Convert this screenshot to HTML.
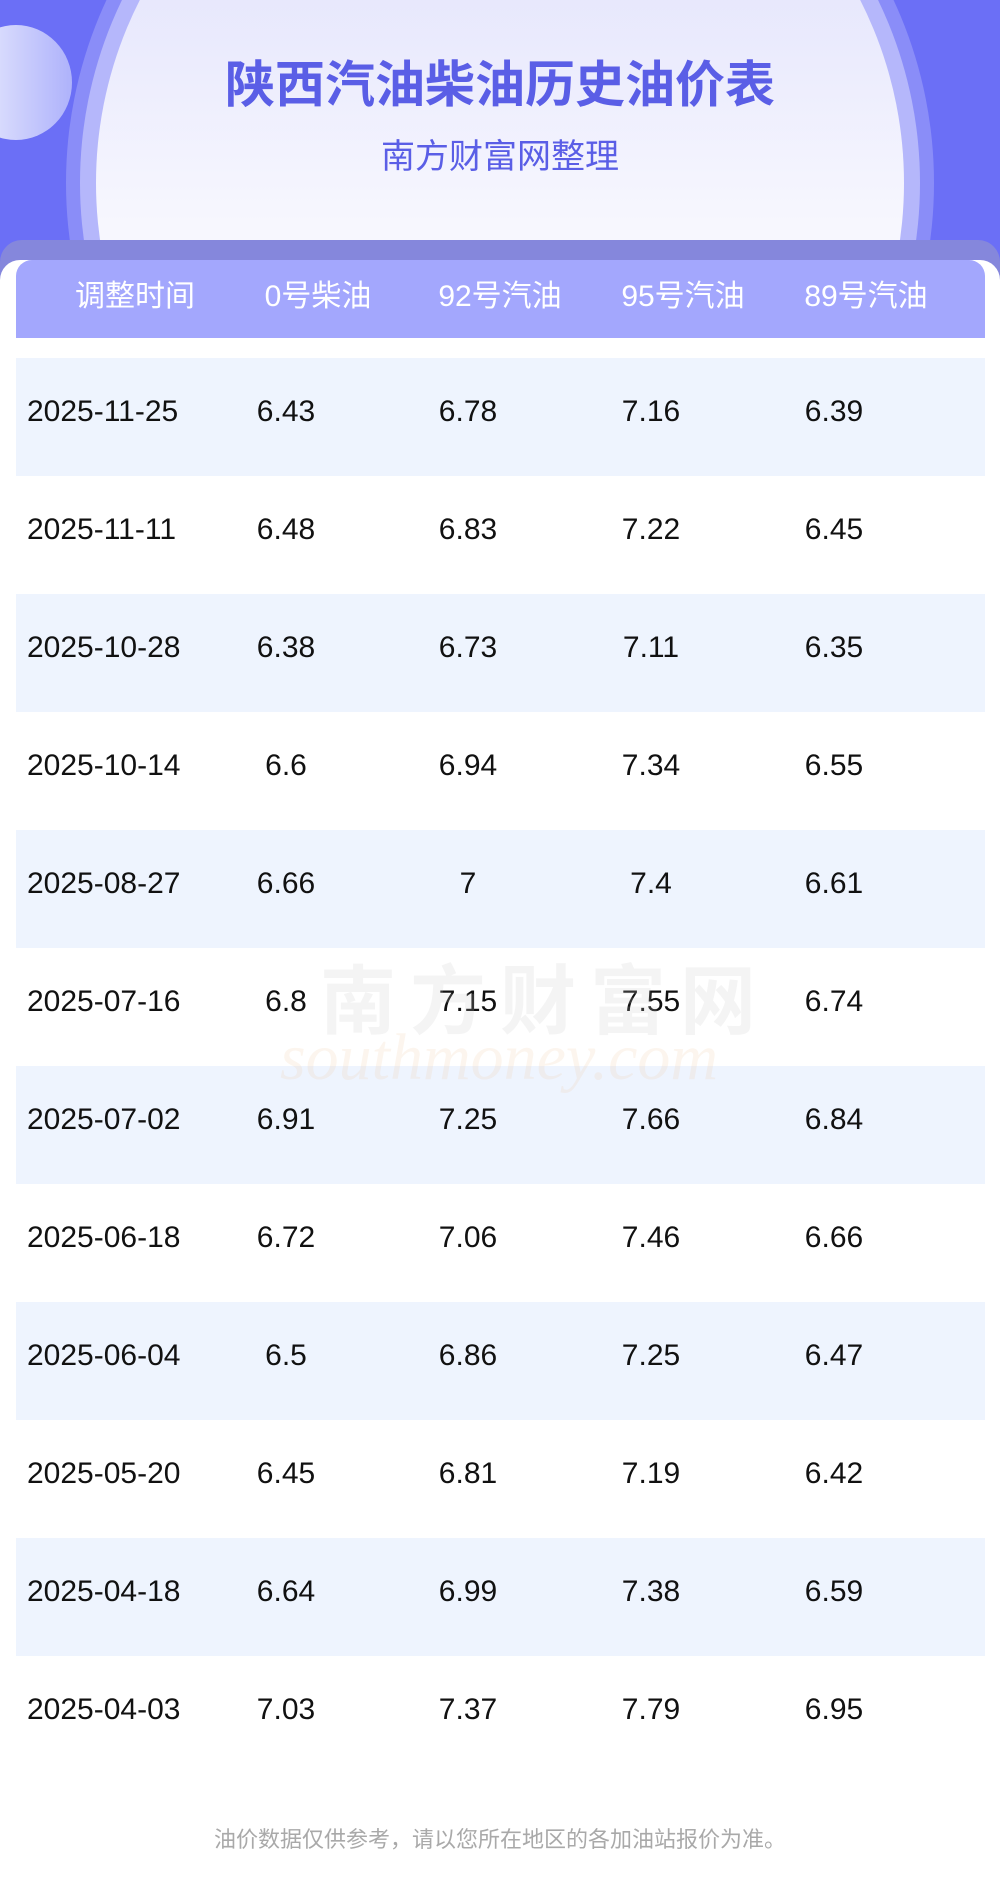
<!DOCTYPE html>
<html><head><meta charset="utf-8"><style>
*{margin:0;padding:0;box-sizing:border-box}
body{width:1000px;height:1880px;position:relative;overflow:hidden;background:#fff;font-family:"Liberation Sans","Noto Sans CJK SC",sans-serif}
.bg{position:absolute;left:0;top:0;width:1000px;height:300px;background:#6b6ff6;overflow:hidden}
.ring{position:absolute;border-radius:50%}
.t{position:absolute;left:0;width:1000px;text-align:center}
.row{position:absolute;left:16px;width:969px;height:118px}
.c{position:absolute;top:0;line-height:108px;font-size:30px;color:#111}
.h{position:absolute;top:258px;line-height:78px;font-size:30px;color:#fff;transform:translateX(-50%)}
</style></head><body>
<div class="bg">
 <div class="ring" style="left:66px;top:-251px;width:868px;height:868px;background:#8a8df8"></div>
 <div class="ring" style="left:80px;top:-237px;width:840px;height:840px;background:#b5b7fb"></div>
 <div class="ring" style="left:96px;top:-221px;width:808px;height:808px;background:linear-gradient(180deg,#d8d9fb,#f7f7fe 55%)"></div>
 <div class="ring" style="left:-40px;top:25px;width:112px;height:115px;background:linear-gradient(90deg,#eef0fe,#aeb2fb)"></div>
</div>
<div class="t" style="top:56px;font-size:50px;font-weight:bold;color:#5a5ee6;line-height:58px">陕西汽油柴油历史油价表</div>
<div class="t" style="top:135px;font-size:34px;color:#5a5ee6;line-height:44px">南方财富网整理</div>
<div style="position:absolute;left:0;top:240px;width:1000px;height:60px;background:#8587dc;border-radius:22px 22px 0 0"></div>
<div style="position:absolute;left:0;top:260px;width:1000px;height:1620px;background:#fff;border-radius:20px 20px 0 0"></div>
<div style="position:absolute;left:16px;top:260px;width:969px;height:78px;background:#a3a7fd;border-radius:16px 16px 0 0"></div>
<div class="h" style="left:135px">调整时间</div>
<div class="h" style="left:318px">0号柴油</div>
<div class="h" style="left:500px">92号汽油</div>
<div class="h" style="left:683px">95号汽油</div>
<div class="h" style="left:866px">89号汽油</div>
<div id="rows"></div>
<div style="position:absolute;left:320px;top:940px;font-size:76px;color:rgba(200,200,200,0.2);letter-spacing:14px;font-weight:bold">南方财富网</div>
<div style="position:absolute;left:280px;top:1020px;font-size:66px;color:rgba(240,200,160,0.18);font-style:italic;font-family:'Liberation Serif',serif">southmoney.com</div>
<div class="t" style="top:1822px;font-size:22px;color:#a9a9a9">油价数据仅供参考，请以您所在地区的各加油站报价为准。</div>
<script>
var d=[["2025-11-25","6.43","6.78","7.16","6.39"],["2025-11-11","6.48","6.83","7.22","6.45"],["2025-10-28","6.38","6.73","7.11","6.35"],["2025-10-14","6.6","6.94","7.34","6.55"],["2025-08-27","6.66","7","7.4","6.61"],["2025-07-16","6.8","7.15","7.55","6.74"],["2025-07-02","6.91","7.25","7.66","6.84"],["2025-06-18","6.72","7.06","7.46","6.66"],["2025-06-04","6.5","6.86","7.25","6.47"],["2025-05-20","6.45","6.81","7.19","6.42"],["2025-04-18","6.64","6.99","7.38","6.59"],["2025-04-03","7.03","7.37","7.79","6.95"]];
var h="",xs=[270,452,635,818];
d.forEach(function(r,i){h+='<div class="row" style="top:'+(358+i*118)+'px;background:'+(i%2==0?'#eef4fe':'#fff')+'"><div class="c" style="left:11px">'+r[0]+'</div>';
for(var j=0;j<4;j++)h+='<div class="c" style="left:'+xs[j]+'px;transform:translateX(-50%)">'+r[j+1]+'</div>';h+='</div>';});
document.getElementById("rows").innerHTML=h;
</script>
</body></html>
